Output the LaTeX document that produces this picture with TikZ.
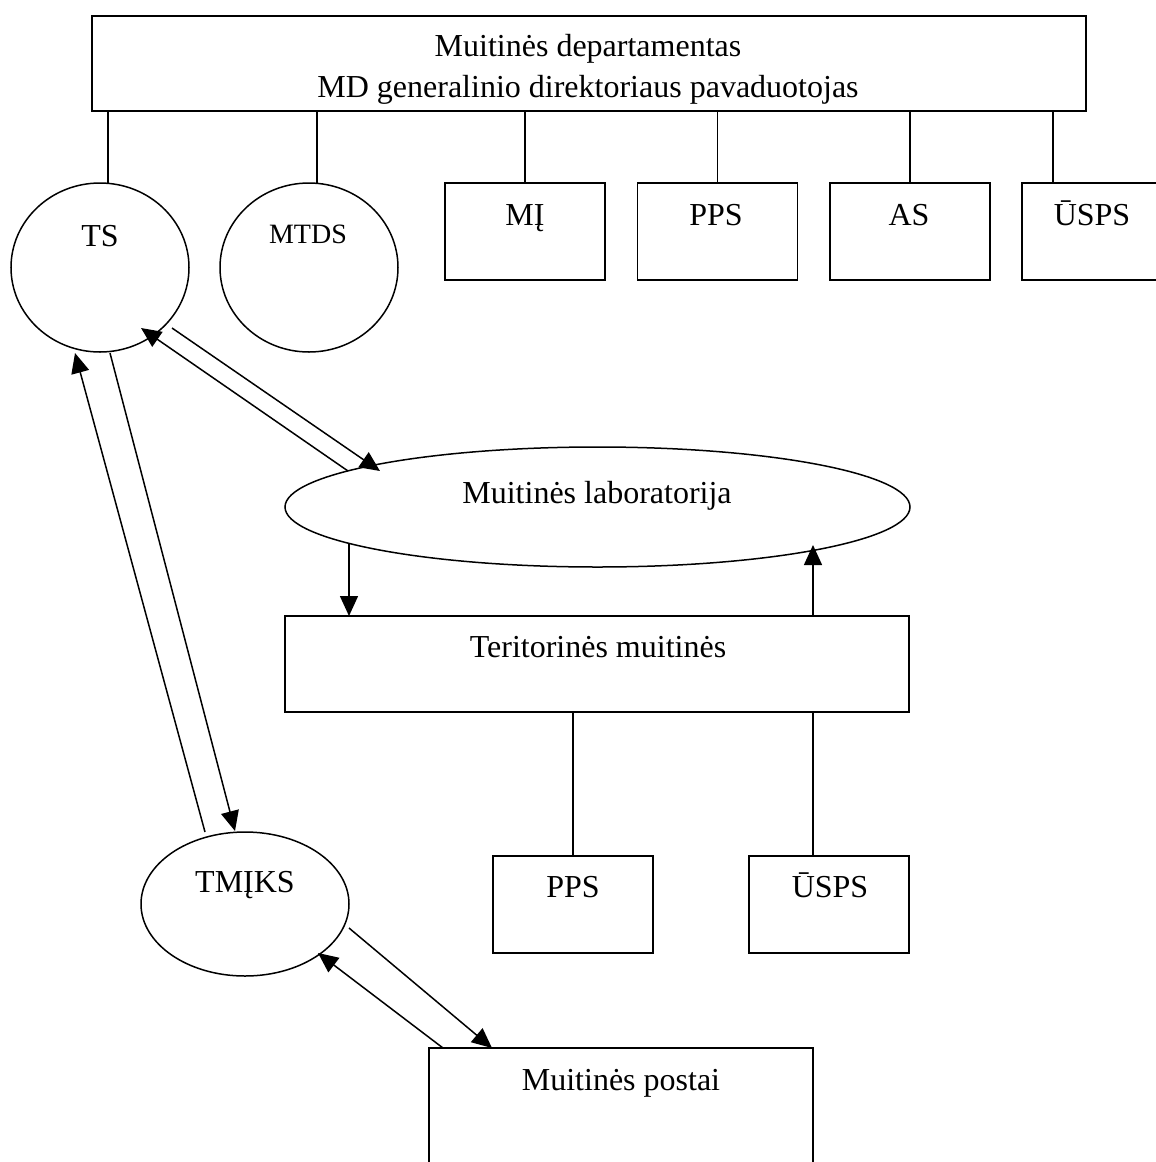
\documentclass[tikz,border=0pt]{standalone}
\usepackage{fontspec}
\setmainfont{Liberation Serif}
\usetikzlibrary{shapes.geometric,arrows.meta}

\begin{document}
\begin{tikzpicture}[x=0.5pt, y=-0.5pt, line width=0.75pt,
    box/.style={draw, rectangle, inner sep=0pt, outer sep=0pt},
    smallbox/.style={box, minimum width=80pt, minimum height=48.5pt},
    oval/.style={draw, ellipse, inner sep=0pt, outer sep=0pt},
    lbl/.style={inner sep=0pt, anchor=base, font=\fontsize{16}{20.5}\selectfont},
    arr/.style={-{Triangle[length=10pt, width=9pt]}}]

    % Page frame
    \clip (0,0) rectangle (1156,1162);

    % Top box
    \node[box, minimum width=497pt, minimum height=47.5pt] (md) at (589,63.5) {};
    \node[lbl, anchor=center, align=center] (md-t) at (588,69)
        {Muitinės departamentas\\MD generalinio direktoriaus pavaduotojas};

    % Ovals under the top box
    \node[oval, minimum width=89pt, minimum height=84.5pt] (ts) at (100,267.5) {};
    \node[oval, minimum width=89pt, minimum height=84.5pt] (mtds) at (309,267.5) {};
    \node[lbl] (ts-t) at (100,246) {TS};
    \node[lbl, font=\fontsize{14}{17}\selectfont] (mtds-t) at (308,243) {MTDS};
    \coordinate (ts-top) at ([shift={(8,0)}]ts.north);
    \coordinate (mtds-top) at ([shift={(8,0)}]mtds.north);
    \draw (ts-top) -- (ts-top |- md.south);
    \draw (mtds-top) -- (mtds-top |- md.south);

    % Boxes under the top box
    \foreach \name/\x/\tx/\txt in {mi/525/525/MĮ, pps/717.5/716/PPS, as/910/909/AS, usps/1102/1092/ŪSPS} {
        \node[smallbox] (\name) at (\x,231.5) {};
        \node[lbl] (\name-t) at (\tx,225) {\txt};
    }
    \foreach \name in {mi, pps, as}
        \draw (\name.north) -- (\name.north |- md.south);
    \coordinate (usps-top) at ([shift={(-49,0)}]usps.north);
    \draw (usps-top) -- (usps-top |- md.south);

    % Laboratory and territorial customs
    \node[oval, minimum width=312.5pt, minimum height=60pt] (lab) at (597.5,507) {};
    \node[lbl] (lab-t) at (597,503) {Muitinės laboratorija};
    \node[box, minimum width=312pt, minimum height=48pt] (terit) at (597,664) {};
    \node[lbl] (terit-t) at (598,657) {Teritorinės muitinės};

    \draw[arr] ([shift={(-248.5,37)}]lab.center) -- ([shift={(-248,0)}]terit.north);
    \draw[arr] ([shift={(216,0)}]terit.north) -- ([shift={(215.5,38)}]lab.center);

    % Boxes under the territorial customs
    \node[smallbox] (pps2) at (573,904.5) {};
    \node[smallbox] (usps2) at (829,904.5) {};
    \node[lbl] (pps2-t) at (573,897) {PPS};
    \node[lbl] (usps2-t) at (830,897) {ŪSPS};
    \coordinate (usps2-top) at ([shift={(-16,0)}]usps2.north);
    \draw (pps2.north) -- (pps2.north |- terit.south);
    \draw (usps2-top) -- (usps2-top |- terit.south);

    % TMIKS and customs posts
    \node[oval, minimum width=104pt, minimum height=72pt] (tmiks) at (245,904) {};
    \node[lbl] (tmiks-t) at (245,892) {TMĮKS};
    \node[box, minimum width=192pt, minimum height=76pt, anchor=north] (postai) at (621,1048) {};
    \node[lbl] (postai-t) at (621,1090) {Muitinės postai};

    % Exchange arrows
    \draw[arr] ([shift={(72,60.5)}]ts.center) -- ([shift={(-217.5,-36)}]lab.center);
    \draw[arr] ([shift={(-249.5,-36)}]lab.center) -- ([shift={(41,60.5)}]ts.center);
    \draw[arr] ([shift={(10,85.5)}]ts.center) -- ([shift={(-10,-73)}]tmiks.center);
    \draw[arr] ([shift={(-40,-72)}]tmiks.center) -- ([shift={(-25,85.5)}]ts.center);
    \draw[arr] ([shift={(104,24)}]tmiks.center) -- ([shift={(-129,0)}]postai.north);
    \draw[arr] ([shift={(-178,0)}]postai.north) -- ([shift={(73,49)}]tmiks.center);

\end{tikzpicture}
\end{document}
